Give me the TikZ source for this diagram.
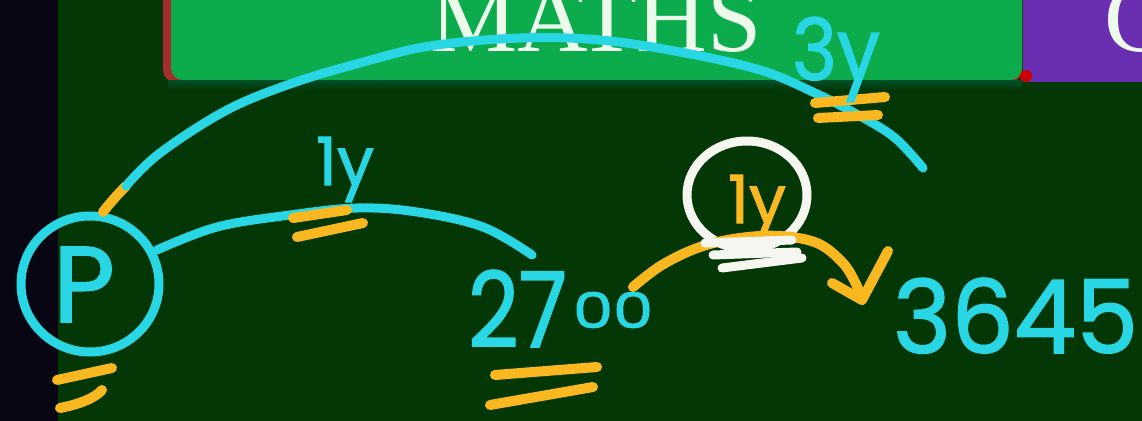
\documentclass[tikz,border=0pt]{standalone}
\usepackage{fontspec}
\usepackage{graphicx}
\setmainfont{Liberation Serif}
\newfontfamily\hand[FakeBold=1.5]{Poppins}
\definecolor{bgdark}{RGB}{3,55,6}
\definecolor{leftstrip}{RGB}{8,6,18}
\definecolor{banner}{RGB}{12,172,76}
\definecolor{bannerred}{RGB}{165,45,45}
\definecolor{purplebox}{RGB}{106,46,178}
\definecolor{cyanink}{RGB}{40,214,228}
\definecolor{yellowink}{RGB}{250,184,32}
\definecolor{whiteink}{RGB}{246,246,240}
\definecolor{titlewhite}{RGB}{236,250,236}
\tikzset{
  cyanstroke/.style={draw=cyanink, line width=9pt, line cap=round, line join=round},
  yellowstroke/.style={draw=yellowink, line width=10pt, line cap=round, line join=round},
  whitestroke/.style={draw=whiteink, line width=9pt, line cap=round, line join=round},
  handtext/.style={inner sep=0pt, outer sep=0pt, anchor=base west, font=\hand},
  titletext/.style={inner sep=0pt, outer sep=0pt, anchor=base west, text=titlewhite, font=\fontsize{98}{100}\selectfont}
}
\begin{document}
\begin{tikzpicture}[x=1pt,y=-1pt]
\useasboundingbox (0,0) rectangle (1142,420);
% background (oversized so that no light edge remains)
\fill[bgdark] (-10,-10) rectangle (1152,430);
\fill[leftstrip] (-10,-10) rectangle (58,430);
\clip (0,0) rectangle (1142,420);
% banner
\fill[bannerred, rounded corners=12pt] (163,-20) rectangle (1022,82);
\fill[banner, rounded corners=12pt] (171,-20) rectangle (1022,80);
\shade[top color=black!30!cyan!20!bgdark, bottom color=bgdark] (168,80) rectangle (1022,90);
\node[titletext] (maths) at (430,52) {MATHS};
% purple box
\fill[purplebox] (1023,-5) rectangle (1142,82);
\fill[red!80!black] (1026,76) circle (6);
\node[titletext] (cbox) at (1104,52) {C};
% P circle
\draw[cyanstroke] (90,284) ellipse [x radius=69, y radius=68];
\node[handtext, text=cyanink] (P) at (53,322) {\resizebox{62pt}{75pt}{P}};
\coordinate (ptop) at (103,212);
\coordinate (pright) at (157,250);
% yellow under P
\draw[yellowstroke] (57,380) -- (112,368);
\draw[yellowstroke] (60,408) .. controls (80,404) and (95,398) .. (102,390);
% upper arc
\draw[yellowstroke] (ptop) .. controls (110,203) and (118,194) .. (126,186);
\draw[cyanstroke] plot[smooth, tension=0.6] coordinates {(126,186) (160,153) (227,110) (293,83) (360,63) (430,46) (520,38) (600,40) (680,52) (760,70) (815,93) (860,116) (895,138) (923,168)};
\coordinate (upend) at (923,168);
\draw[yellowstroke] (815,103) -- (885,97);
\draw[yellowstroke] (818,118) -- (878,115);
\node[handtext, text=cyanink] (lab3y) at (792,80) {\resizebox{88pt}{63pt}{3y}};
% lower arc
\coordinate (lowend) at (532,255);
\draw[cyanstroke] plot[smooth, tension=0.6] coordinates {(pright) (217,227) (290,215) (357,208) (417,212) (483,227) (lowend)};
\draw[yellowstroke] (293,218) -- (347,210);
\draw[yellowstroke] (297,237) -- (363,223);
\node[handtext, text=cyanink] (lab1y) at (316,185) {\resizebox{58pt}{48pt}{1y}};
% 2700
\node[handtext, text=cyanink] (amt) at (468,347) {\resizebox{99pt}{77pt}{27}\hspace{6pt}\raisebox{19pt}{\resizebox{80pt}{36pt}{00}}};
\draw[yellowstroke] (495,375) -- (597,367);
\draw[yellowstroke] (490,405) -- (593,387);
% 3645
\node[handtext, text=cyanink] (res) at (893,353) {\resizebox{245pt}{75pt}{3645}};
% white circle with 1y
\draw[whitestroke] (747,195) ellipse [x radius=60, y radius=54];
\node[handtext, text=yellowink] (ring) at (728,223) {\resizebox{58pt}{48pt}{1y}};
% yellow arrow from 2700 to 3645
\coordinate (astart) at (633,287);
\coordinate (atip) at (862,300);
\draw[yellowstroke] plot[smooth, tension=0.6] coordinates {(astart) (662,265) (700,247) (740,238) (780,236) (817,243) (842,262) (855,282) (atip)};
\draw[yellowstroke] (832,283) -- (atip) -- (888,251);
% white scribble under ring
\draw[whitestroke] (705,243) -- (792,240);
\draw[whitestroke] (713,255) -- (797,252);
\draw[whitestroke] (722,268) -- (802,258);
\end{tikzpicture}
\end{document}
